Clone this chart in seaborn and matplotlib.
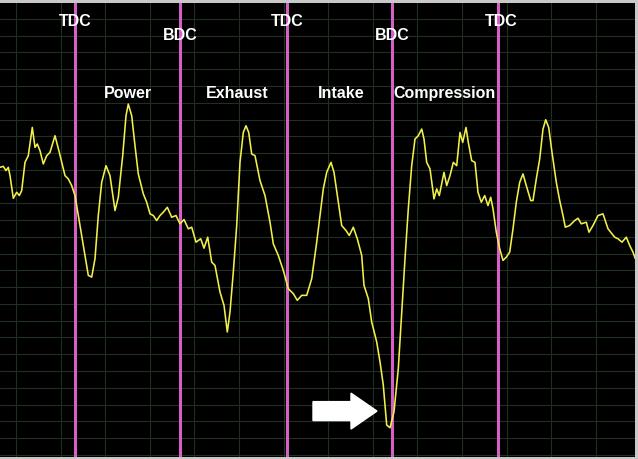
import numpy as np
import pandas as pd
import matplotlib
matplotlib.use("Agg")
import matplotlib.pyplot as plt
import seaborn as sns

sample = [0, 3.3, 6, 8.3, 10, 13.3, 16.7, 19.3, 21.7, 25, 28.3, 32.3, 35, 37.3, 40, 43.3,
          46.7, 50, 55, 59.3, 65, 68.3, 71.7, 75, 78.3, 81.7, 85, 88.3, 91.7, 95, 98.3,
          101.7, 106, 110, 115, 118.3, 122.7, 126, 128.3, 131.7, 135, 138.3, 143.3, 146.7,
          150, 153.3, 156.7, 160, 163.3, 167.3, 171.7, 176, 180, 184, 188.3, 191.7, 196,
          200.7, 204, 207.7, 211.7, 215, 220, 224, 227.3, 230, 233.3, 236.7, 240, 243.3,
          246, 248.7, 251.7, 255, 260, 265, 270, 273.3, 278.3, 283.3, 288.3, 293.3, 297.3,
          301.7, 306.7, 311.7, 316.7, 320, 323.3, 326.7, 331, 334, 338.3, 341.7, 346, 349.3,
          353.3, 357.3, 361.7, 364, 368.3, 371.7, 376.7, 380, 383.3, 386.7, 390, 394, 398.3,
          401.7, 405, 408.3, 411.7, 415, 418.3, 421.7, 424, 426.7, 430, 434, 436.7, 439.3,
          444, 446.7, 450, 453.3, 456.7, 460, 462.7, 466, 468.3, 471.7, 475, 478, 481.3,
          484.7, 488, 490.7, 493, 496.3, 499.7, 503, 506.3, 509.7, 513, 516.3, 519.7, 523,
          526.3, 530.7, 533, 536.3, 539.7, 543, 545.7, 548.7, 552, 556.3, 559.7, 563, 565.3,
          569.7, 574.7, 578, 581.3, 586.3, 589, 593, 598, 603, 608, 614.7, 618, 622, 626.3,
          629.7, 633, 635.3]
level = [166.7, 165.7, 170, 166.7, 175, 197.7, 191.7, 195, 190, 161.7, 155, 126.7, 146.7,
         143.3, 150, 163.3, 155, 151.7, 135, 151.7, 175, 178.3, 185, 195, 215, 235, 255, 275,
         276.7, 258.3, 215, 181.7, 165, 175, 210, 196.7, 155, 115, 103.3, 115, 145, 173.3,
         193.3, 201.7, 213.3, 215, 220, 215, 211.7, 206.7, 216.7, 215, 223.3, 219, 228.3,
         226.7, 241.7, 238.3, 247.7, 236.7, 261.7, 265, 291.7, 305, 331.7, 311.7, 271.7,
         225, 161.7, 131.7, 125, 131.7, 153.3, 155, 180, 195, 221.7, 243.3, 255, 270, 288.3,
         293.3, 300, 295, 295, 278.3, 241.7, 215, 188.3, 171.7, 161.7, 171.7, 201.7, 225,
         230, 235, 226.7, 238.3, 255, 285, 298.3, 321.7, 341.7, 361.7, 385, 425, 427.7,
         411.7, 368.3, 311.7, 258.3, 208.3, 165, 138.3, 135, 128.3, 138.3, 161.7, 168.3,
         198.3, 188.3, 195, 171.7, 185, 175, 161.7, 165, 131.7, 141.7, 126.7, 141.7, 160,
         161.7, 191.7, 201.7, 195, 205, 196.7, 208.3, 231.7, 248.3, 260, 256.7, 251.7,
         228.3, 201.7, 181.7, 173.3, 185, 200, 200, 178.3, 158.3, 128.3, 119, 126.7, 151.7,
         181.7, 200, 215, 226.7, 225, 220, 217.7, 223.3, 221.7, 231.7, 225, 215, 213.3,
         228.3, 236.7, 238.3, 241.7, 236.7, 245, 251.7, 258.3]

dead_centres = [75, 180, 287, 392, 498]
dc_labels = ["TDC", "BDC", "TDC", "BDC", "TDC"]
dc_label_x = [75, 180, 287, 392, 501]
dc_label_y = [21, 35, 21, 35, 21]

strokes = ["Power", "Exhaust", "Intake", "Compression"]
stroke_x = [128, 237, 341, 445]
stroke_y = 93

df = pd.DataFrame({"sample": sample, "level": level})

sns.set_style("dark")
plt.rcParams["font.family"] = ["Liberation Sans", "DejaVu Sans"]

fig = plt.figure(figsize=(6.38, 4.59), dpi=100, facecolor="#c8c8c8")
ax = fig.add_axes([0, 2 / 459, 635 / 638, 454 / 459])
ax.set_facecolor("black")

# scope grid
for gx in np.arange(16, 640, 44.6):
    ax.axvline(gx, color="#1f301f", lw=0.8, zorder=0)
for gy in np.arange(1.2, 459, 16.8):
    ax.axhline(gy, color="#1f301f", lw=0.8, zorder=0)

for x in dead_centres:
    ax.axvline(x, color="#d660c6", lw=2.2, zorder=2)

sns.lineplot(data=df, x="sample", y="level", ax=ax, color="#f2f04a", lw=1.15,
             estimator=None, sort=False, zorder=3)

for lab, x, y in zip(dc_labels, dc_label_x, dc_label_y):
    ax.text(x, y, lab, color="white", fontsize=11.5, fontweight="bold",
            ha="center", va="center", zorder=4)
for lab, x in zip(strokes, stroke_x):
    ax.text(x, stroke_y, lab, color="white", fontsize=11.5, fontweight="bold",
            ha="center", va="center", zorder=4)

# arrow pointing at the intake dip
ax.arrow(313, 411, 64, 0, width=19, head_width=36, head_length=26,
         length_includes_head=True, color="white", zorder=5)

ax.set_xlim(0, 635)
ax.set_ylim(457, 2)
ax.set_xticks([])
ax.set_yticks([])
ax.set_xlabel("")
ax.set_ylabel("")
for s in ax.spines.values():
    s.set_visible(False)

fig.savefig("out.png", dpi=100, facecolor=fig.get_facecolor())
